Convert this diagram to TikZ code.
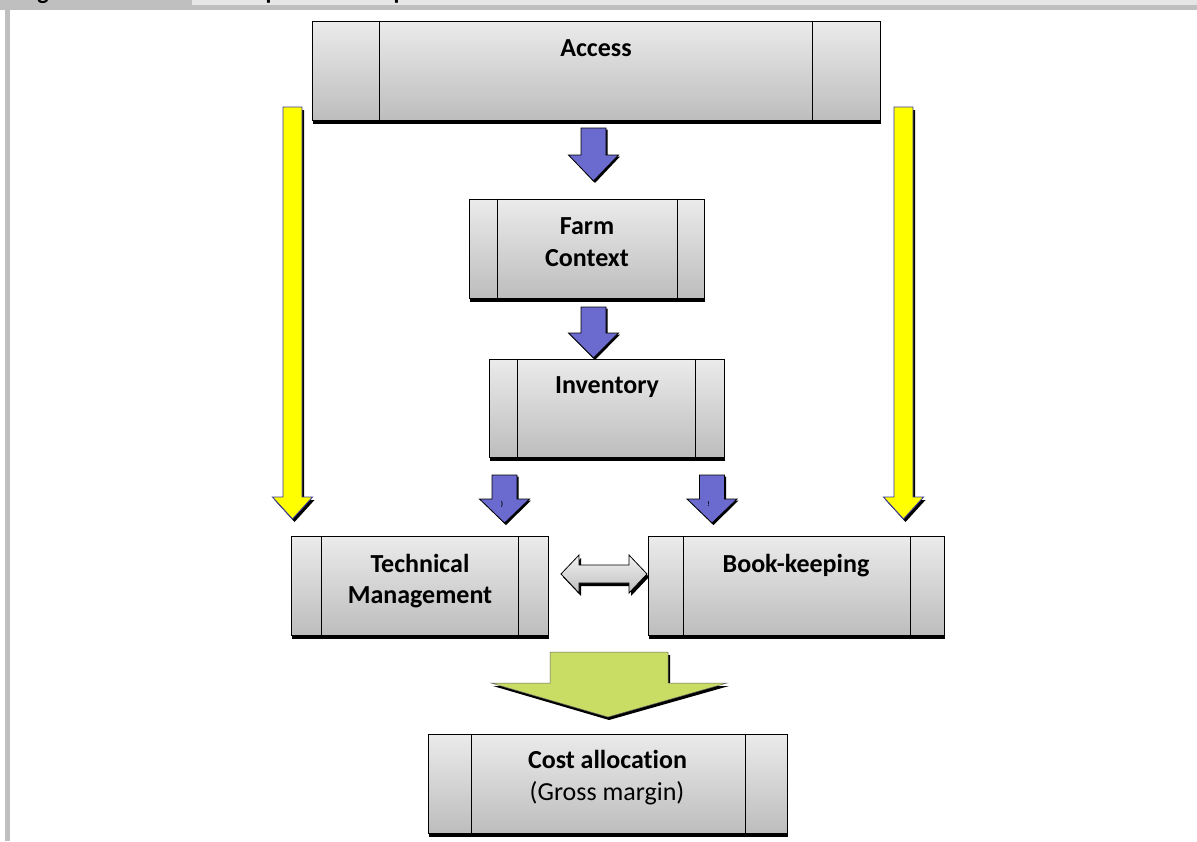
\documentclass[tikz,border=0pt]{standalone}
\usepackage{fontspec}
\setmainfont{Carlito}[Ligatures={NoCommon}]
\usetikzlibrary{shadows}
\definecolor{boxtop}{HTML}{EBEBEB}
\definecolor{boxbot}{HTML}{BDBDBD}
\definecolor{hdrdark}{HTML}{BFBFBF}
\definecolor{hdrlight}{HTML}{E6E6E6}
\definecolor{bluearr}{HTML}{6A6ACF}
\definecolor{yelarr}{HTML}{FFFF00}
\definecolor{yeledge}{HTML}{3A3A9A}
\definecolor{greenarr}{HTML}{C9DC64}
\definecolor{dbltop}{HTML}{F2F2F2}
\definecolor{dblbot}{HTML}{BEBEBE}
\tikzset{
  pbox/.style={rectangle, draw=black, line width=0.8pt, top color=boxtop, bottom color=boxbot,
    inner sep=0pt, general shadow={fill=black, shadow xshift=1pt, shadow yshift=-3.5pt}},
  divider/.style={draw=black, line width=0.8pt},
  lbl/.style={font=\bfseries\fontsize{26}{32}\selectfont, inner sep=0pt, anchor=base},
  lblnorm/.style={font=\fontsize{26}{32}\selectfont, inner sep=0pt, anchor=base},
  hdrtxt/.style={font=\bfseries\fontsize{24}{28}\selectfont, inner sep=0pt, anchor=base},
  tinymark/.style={font=\bfseries\fontsize{7}{8}\selectfont, inner sep=0pt},
  bluestyle/.style={fill=bluearr, draw=black, line width=0.8pt, line join=miter},
  yelstyle/.style={fill=yelarr, draw=yeledge, line width=0.9pt, line join=miter},
  greenstyle/.style={fill=greenarr, draw=black!60, line width=0.5pt, line join=miter},
  dblstyle/.style={top color=dbltop, bottom color=dblbot, draw=black, line width=0.8pt, line join=miter},
  shadowfill/.style={fill=black},
}
\begin{document}
\begin{tikzpicture}[x=1pt,y=-1pt]
\useasboundingbox (0,0) rectangle (1197,841);
\fill[white] (0,0) rectangle (1197,841);
% header and frame
\fill[hdrdark] (0,0) rectangle (192,10);
\fill[hdrlight] (192,0) rectangle (1197,5);
\fill[hdrdark] (192,5) rectangle (1197,10);
\fill[hdrdark] (5,10) rectangle (10,841);
\begin{scope}
  \clip (0,0) rectangle (1197,5);
  \node[hdrtxt] (hg) at (43,-1) {g};
  \node[hdrtxt] (hp1) at (272,-1) {p};
  \node[hdrtxt] (hp2) at (400,-1) {p};
\end{scope}

% yellow arrows (shadow then arrow)
\foreach \cx in {292.5, 903.5} {
  \fill[shadowfill] ({\cx-9.5+2},110) -- ({\cx+9.5+2},110) -- ({\cx+9.5+2},500) -- ({\cx+20+2},500)
     -- ({\cx+2},522) -- ({\cx-20+2},500) -- ({\cx-9.5+2},500) -- cycle;
  \draw[yelstyle] ({\cx-9.5},107) -- ({\cx+9.5},107) -- ({\cx+9.5},497) -- ({\cx+20},497)
     -- (\cx,519) -- ({\cx-20},497) -- ({\cx-9.5},497) -- cycle;
}

% boxes
\node[pbox, minimum width=568pt, minimum height=99pt] (access) at (596,70.5) {};
\node[pbox, minimum width=235pt, minimum height=99pt] (farm) at (586.5,248.5) {};
\node[pbox, minimum width=235pt, minimum height=98pt] (inv) at (606.5,408) {};
\node[pbox, minimum width=257pt, minimum height=99pt] (tech) at (419.5,585.5) {};
\node[pbox, minimum width=296pt, minimum height=99pt] (book) at (796,585.5) {};
\node[pbox, minimum width=359pt, minimum height=99pt] (cost) at (607.5,783.5) {};

% dividers
\draw[divider] ([xshift=68pt]access.north west) -- ([xshift=68pt]access.south west);
\draw[divider] ([xshift=-68pt]access.north east) -- ([xshift=-68pt]access.south east);
\draw[divider] ([xshift=29pt]farm.north west) -- ([xshift=29pt]farm.south west);
\draw[divider] ([xshift=-27pt]farm.north east) -- ([xshift=-27pt]farm.south east);
\draw[divider] ([xshift=29pt]inv.north west) -- ([xshift=29pt]inv.south west);
\draw[divider] ([xshift=-29pt]inv.north east) -- ([xshift=-29pt]inv.south east);
\draw[divider] ([xshift=31pt]tech.north west) -- ([xshift=31pt]tech.south west);
\draw[divider] ([xshift=-30pt]tech.north east) -- ([xshift=-30pt]tech.south east);
\draw[divider] ([xshift=36pt]book.north west) -- ([xshift=36pt]book.south west);
\draw[divider] ([xshift=-34pt]book.north east) -- ([xshift=-34pt]book.south east);
\draw[divider] ([xshift=44pt]cost.north west) -- ([xshift=44pt]cost.south west);
\draw[divider] ([xshift=-42pt]cost.north east) -- ([xshift=-42pt]cost.south east);

% labels
\node[lbl] (accesst) at (596,56) {Access};
\node[lbl] (farmt1) at (587,234) {Farm};
\node[lbl] (farmt2) at (587,266) {Context};
\node[lbl] (invt) at (607,393) {Inventory};
\node[lbl] (techt1) at (420,572) {Technical};
\node[lbl] (techt2) at (420,603) {Management};
\node[lbl] (bookt) at (796,572) {Book-keeping};
\node[lbl] (costt1) at (607.5,768) {Cost allocation};
\node[lblnorm] (costt2) at (607,800) {(Gross margin)};

% blue block arrows
\foreach \cx/\top/\neck/\tip in {593.5/128/155/181, 593.5/307/333/358, 504.5/475/499/523, 712/475/499/523} {
  \fill[shadowfill] ({\cx-12.5+1.5},\top+1.5) -- ({\cx+12.5+1.5},\top+1.5) -- ({\cx+12.5+1.5},\neck+1.5)
     -- ({\cx+25+1.5},\neck+1.5) -- ({\cx+1.5},\tip+2) -- ({\cx-25+1.5},\neck+1.5) -- ({\cx-12.5+1.5},\neck+1.5) -- cycle;
  \draw[bluestyle] ({\cx-12.5},\top) -- ({\cx+12.5},\top) -- ({\cx+12.5},\neck)
     -- ({\cx+25},\neck) -- (\cx,\tip) -- ({\cx-25},\neck) -- ({\cx-12.5},\neck) -- cycle;
}
\node[tinymark] (markl) at (502,504) {)};
\node[tinymark] (markr) at (708.5,504) {!};

% double arrow between Technical Management and Book-keeping
\fill[shadowfill] (563,577) -- (581,558) -- (581,568) -- (631,568) -- (631,558) -- (649,577)
   -- (631,596) -- (631,586) -- (581,586) -- (581,596) -- cycle;
\draw[dblstyle] (561,574) -- (579,555) -- (579,565) -- (629,565) -- (629,555) -- (647,574)
   -- (629,593) -- (629,583) -- (579,583) -- (579,593) -- cycle;

% green block arrow
\fill[shadowfill] (552,655) -- (670,655) -- (670,686) -- (729,686) -- (609,720) -- (493,686) -- (552,686) -- cycle;
\draw[greenstyle] (550,652) -- (668,652) -- (668,683) -- (727,683) -- (608,717) -- (491,683) -- (550,683) -- cycle;
\end{tikzpicture}
\end{document}
